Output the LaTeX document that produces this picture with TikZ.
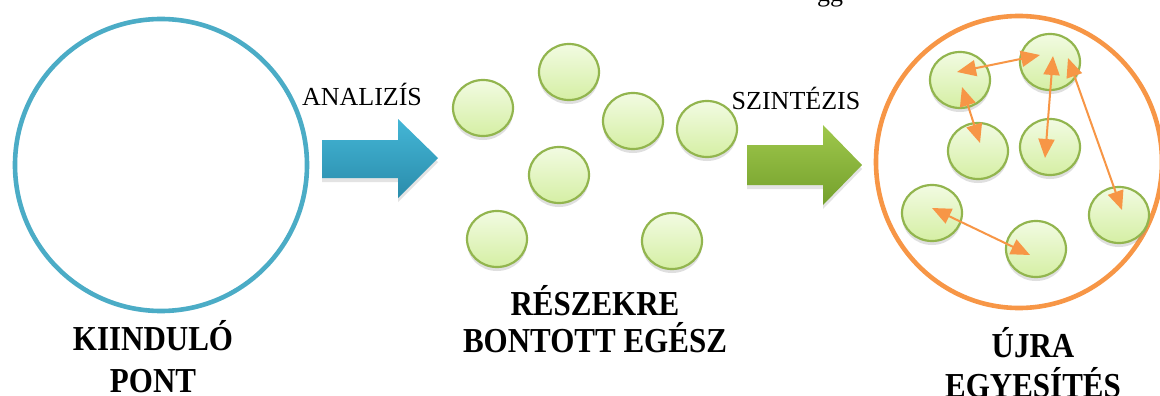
\documentclass[tikz,border=0pt]{standalone}
\usepackage{fontspec}
\usepackage{graphicx}
\setmainfont{Liberation Serif}
\usetikzlibrary{shapes.geometric,arrows.meta,shadows}
\definecolor{cblue}{HTML}{4BACC6}
\definecolor{corange}{HTML}{F79646}
\definecolor{cgreenline}{HTML}{92B54E}
\definecolor{bubtop}{HTML}{F2FBE2}
\definecolor{bubbot}{HTML}{D5EFA4}
\definecolor{abluetop}{HTML}{44B6D6}
\definecolor{ablubot}{HTML}{2A8CAB}
\definecolor{agreentop}{HTML}{9FC84C}
\definecolor{agreenbot}{HTML}{74A02C}
\newcommand{\myboldtxt}[1]{\scalebox{1}[1.13]{#1}}
\tikzset{
  bub/.style={ellipse, draw=cgreenline, line width=2.2pt, inner sep=0pt,
    minimum width=60pt, minimum height=56pt, top color=bubtop, bottom color=bubbot,
    drop shadow={opacity=0.25, shadow xshift=0pt, shadow yshift=-4pt}},
  conn/.style={draw=corange, line width=2pt,
    {Triangle[length=19pt,width=16pt]}-{Triangle[length=19pt,width=16pt]}},
  lbl/.style={anchor=base, font=\fontsize{26}{30}\selectfont, inner sep=0pt},
  blbl/.style={anchor=base, font=\bfseries\fontsize{31}{36}\selectfont, inner sep=0pt},
  ashadow/.style={drop shadow={opacity=0.22, shadow xshift=0pt, shadow yshift=-4pt}}
}
\begin{document}
\begin{tikzpicture}[x=1pt,y=-1pt]
\useasboundingbox (0,0) rectangle (1160,396);
\fill[white] (0,0) rectangle (1160,396);

% partial text at top
\node[lbl] (gg) at (830,2) {gg};

% starting point
\node[circle, draw=cblue, line width=4.6pt, minimum size=292pt, inner sep=0pt] (start) at (161,165) {};
\node[blbl] (k1) at (153,350) {\myboldtxt{KIINDULÓ}};
\node[blbl] (k2) at (153,392) {\myboldtxt{PONT}};

% analysis arrow
\shade[top color=abluetop, bottom color=ablubot, ashadow]
  (322,140) -- (398,140) -- (398,119) -- (438,158) -- (398,198) -- (398,178) -- (322,178) -- cycle;
\node[lbl] (anal) at (362,106) {ANALIZÍS};

% parts
\node[bub] (m1) at (483,108) {};
\node[bub] (m2) at (569,72) {};
\node[bub] (m3) at (633,121) {};
\node[bub] (m4) at (707,129) {};
\node[bub] (m5) at (559,175) {};
\node[bub] (m6) at (497,239) {};
\node[bub] (m7) at (672,241) {};
\node[blbl] (r1) at (595,315) {\myboldtxt{RÉSZEKRE}};
\node[blbl] (r2) at (595,352) {\myboldtxt{BONTOTT EGÉSZ}};

% synthesis arrow
\shade[top color=agreentop, bottom color=agreenbot, ashadow]
  (747,145) -- (823,145) -- (823,125) -- (862,165) -- (823,205) -- (823,185) -- (747,185) -- cycle;
\node[lbl] (szin) at (796,110) {SZINTÉZIS};

% reunion
\node[ellipse, draw=corange, line width=4.6pt, minimum width=286pt, minimum height=292pt, inner sep=0pt] (whole) at (1019,162) {};
\node[bub] (A) at (960,80) {};
\node[bub] (B) at (1050,62) {};
\node[bub] (C) at (978,151) {};
\node[bub] (D) at (1050,147) {};
\node[bub] (E) at (932,213) {};
\node[bub] (F) at (1036,249) {};
\node[bub] (G) at (1119,215) {};

\draw[conn] ([shift={(-3,-8)}]A.center) -- ([shift={(-10,-7)}]B.center);
\draw[conn] ([shift={(2,7)}]A.center) -- ([shift={(2,-8)}]C.center);
\draw[conn] ([shift={(3,-6)}]B.center) -- ([shift={(-5,11)}]D.center);
\draw[conn] ([shift={(18,-4)}]B.center) -- ([shift={(3,-5)}]G.center);
\draw[conn] ([shift={(0,-5)}]E.center) -- ([shift={(-6,6)}]F.center);

\node[blbl] (u1) at (1033,357) {\myboldtxt{ÚJRA}};
\node[blbl] (u2) at (1033,397) {\myboldtxt{EGYESÍTÉS}};
\end{tikzpicture}
\end{document}
